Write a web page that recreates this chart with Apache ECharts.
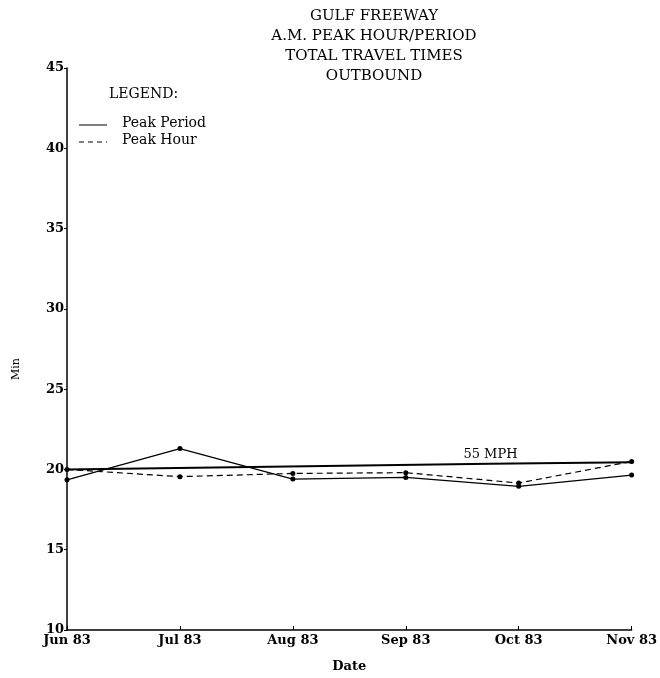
<!DOCTYPE html>
<html><head><meta charset="utf-8">
<script src="https://cdn.jsdelivr.net/npm/echarts@6/dist/echarts.min.js"></script>
<style>html,body{margin:0;padding:0;background:#fff}#c{width:660px;height:678px}</style>
</head><body><div id="c"></div>
<script>
var months = ['Jun 83','Jul 83','Aug 83','Sep 83','Oct 83','Nov 83'];
var peakPeriod = [19.35, 21.3, 19.4, 19.5, 18.95, 19.65];
var peakHour = [20.0, 19.55, 19.75, 19.8, 19.15, 20.5];
var mph55X = [0, 3.75, 5.12];
var mph55Y = [20.0, 20.36, 20.45];
var titleLines = ['GULF FREEWAY','A.M. PEAK HOUR/PERIOD','TOTAL TRAVEL TIMES','OUTBOUND'];

var F = 'DejaVu Serif';
var chart = echarts.init(document.getElementById('c'));
function pairs(arr){ return arr.map(function(v,i){return [i,v];}); }
var mphData = mph55X.map(function(x,i){
  var d = {value:[x, mph55Y[i]]};
  if (i === 1) d.label = {show:true, position:'top', distance:3, formatter:'55 MPH',
    fontFamily:F, fontSize:13, color:'#000', fontWeight:'normal'};
  return d;
});
chart.setOption({
  animation:false,
  backgroundColor:'#fff',
  title:{text:titleLines.join('\n'), left:369, textAlign:'center', top:1,
    textStyle:{fontFamily:F, fontSize:15, fontWeight:'normal', color:'#000', lineHeight:20}},
  grid:{left:67, right:27, top:68, bottom:48},
  xAxis:{type:'value', min:0, max:5, interval:1,
    name:'Date', nameLocation:'middle', nameGap:30,
    nameTextStyle:{fontFamily:F, fontSize:13, fontWeight:'bold', color:'#000'},
    axisLine:{lineStyle:{color:'#000', width:1.5}},
    axisTick:{inside:true, length:4, lineStyle:{color:'#000'}},
    axisLabel:{formatter:function(v){return months[v]||'';}, fontFamily:F, fontSize:13, fontWeight:'bold', color:'#000', margin:4},
    splitLine:{show:false}},
  yAxis:{type:'value', min:10, max:45, interval:5,
    axisLine:{show:true, lineStyle:{color:'#000', width:1.5}},
    axisTick:{show:true, length:3, lineStyle:{color:'#000'}},
    axisLabel:{fontFamily:F, fontSize:13, fontWeight:'bold', color:'#000', margin:3},
    splitLine:{show:false}},
  series:[
    {name:'Peak Period', type:'line', data:pairs(peakPeriod), symbol:'circle', symbolSize:5,
      itemStyle:{color:'#000'}, lineStyle:{color:'#000', width:1.2}},
    {name:'Peak Hour', type:'line', data:pairs(peakHour), symbol:'circle', symbolSize:5,
      itemStyle:{color:'#000'}, lineStyle:{color:'#000', width:1.2, type:[6,4]}},
    {name:'55 MPH', type:'line', data:mphData, symbol:'circle', symbolSize:0, showAllSymbol:true,
      clip:false, itemStyle:{color:'#000'}, lineStyle:{color:'#000', width:2}}
  ],
  graphic:[
    {type:'text', x:16, y:369, rotation:Math.PI/2, style:{text:'Min', font:'11px "DejaVu Serif"', fill:'#000', textAlign:'center', textVerticalAlign:'middle'}},
    {type:'text', left:109, top:87, style:{text:'LEGEND:', font:'14px "DejaVu Serif"', fill:'#000'}},
    {type:'line', shape:{x1:79,y1:125,x2:107,y2:125}, style:{stroke:'#000', lineWidth:1}},
    {type:'line', shape:{x1:79,y1:142,x2:107,y2:142}, style:{stroke:'#000', lineWidth:1.2, lineDash:[5,4]}},
    {type:'text', left:122, top:116, style:{text:'Peak Period', font:'14px "DejaVu Serif"', fill:'#000'}},
    {type:'text', left:122, top:133, style:{text:'Peak Hour', font:'14px "DejaVu Serif"', fill:'#000'}}
  ]
});
</script></body></html>
